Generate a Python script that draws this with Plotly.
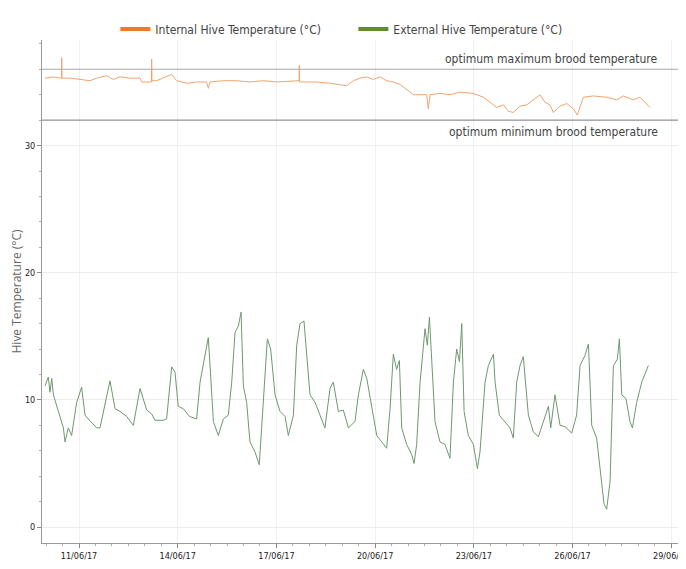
import pandas as pd
import plotly.graph_objects as go

# hours since 10/06/2017 00:00 and readings (°C)
ext_hours = [-0.8, 1.6, 2.8, 4.1, 5.3, 12.6, 13.8, 16.2, 18.6, 22.3, 25.9, 28.4, 30.8, 36.9, 39.3,
             44.2, 46.6, 50.3, 53.9, 58.8, 63.6, 68.5, 73.4, 77.0, 79.4, 85.5, 87.9, 91.6, 94.0,
             96.4, 100.1, 104.6, 109.8, 112.3, 115.9, 118.3, 119.6, 122.0, 125.6, 129.3, 132.9,
             135.4, 137.8, 140.2, 142.2, 143.9, 146.3, 148.7, 152.4, 155.5, 157.2, 159.7, 161.4,
             163.8, 167.0, 170.6, 174.3, 176.7, 180.4, 182.8, 185.2, 188.1, 189.6, 192.5, 196.2,
             199.8, 203.4, 207.1, 209.5, 213.2, 216.8, 220.5, 225.3, 227.8, 231.4, 233.9, 237.5,
             241.2, 244.8, 248.4, 250.9, 253.3, 255.7, 257.7, 259.4, 263.0, 266.7, 268.4, 270.3,
             272.8, 276.4, 278.1, 279.6, 281.3, 283.7, 287.3, 291.0, 294.6, 297.1, 299.5, 301.5,
             303.2, 304.9, 308.0, 311.7, 314.6, 316.5, 320.2, 322.6, 326.3, 327.5, 330.6, 334.8,
             338.4, 340.8, 343.3, 345.7, 348.1, 351.8, 355.4, 359.1, 362.7, 366.4, 368.1, 371.2,
             374.9, 378.5, 383.4, 387.0, 389.5, 393.1, 395.6, 398.0, 401.6, 404.1, 407.0, 408.9,
             411.4, 413.8, 416.7, 418.2, 419.9, 423.0, 425.9, 427.7, 430.8, 434.5, 439.3]
ext_temp = [11.1, 11.8, 10.6, 11.7, 10.4, 7.8, 6.7, 7.8, 7.2, 9.8, 11.0, 8.8, 8.5, 7.8, 7.8,
            10.4, 11.5, 9.3, 9.1, 8.7, 8.0, 10.9, 9.2, 8.9, 8.4, 8.4, 8.5, 12.6, 12.2,
            9.5, 9.3, 8.7, 8.5, 11.4, 13.5, 14.9, 12.7, 8.3, 7.2, 8.5, 8.8,
            11.4, 15.3, 15.8, 16.9, 11.1, 9.8, 6.7, 5.9, 4.9, 7.8, 12.4, 14.8,
            14.0, 10.4, 9.1, 8.7, 7.2, 8.8, 14.3, 16.0, 16.2, 14.0, 10.4, 9.8,
            8.8, 7.8, 10.9, 11.4, 9.1, 9.2, 7.8, 8.3, 10.4, 12.4, 11.7, 9.3,
            7.2, 6.7, 6.2, 9.3, 13.6, 12.4, 13.1, 7.8, 6.5, 5.7, 5.0, 6.5,
            11.4, 15.6, 14.3, 16.5, 13.5, 8.3, 6.7, 6.5, 5.4, 11.4, 14.0, 13.0,
            16.0, 9.1, 7.2, 6.5, 4.6, 5.9, 11.4, 12.7, 13.6, 11.4, 8.8, 8.3,
            7.8, 7.0, 11.4, 12.7, 13.4, 8.8, 7.5, 7.1, 8.3, 9.5, 7.8, 10.4,
            8.0, 7.9, 7.4, 8.8, 12.7, 13.5, 14.4, 8.0, 7.0, 4.6, 1.8, 1.4,
            3.6, 12.7, 13.2, 14.8, 10.4, 10.1, 8.3, 7.8, 9.8, 11.4, 12.7]

int_hours = [-0.8, 5.3, 10.1, 11.2, 11.4, 11.6, 17.4, 24.7, 32.0, 36.9, 44.2, 49.0, 53.9, 61.2,
             68.5, 69.7, 75.8, 76.8, 77.0, 77.2, 80.6, 85.5, 91.6, 95.2, 102.5, 109.8, 117.1,
             118.3, 119.6, 129.3, 139.0, 148.7, 158.5, 168.2, 180.4, 184.5, 184.7, 184.9, 197.4,
             207.1, 219.3, 224.1, 229.0, 233.9, 238.7, 243.6, 248.4, 253.3, 258.2, 263.0, 267.9,
             272.8, 277.6, 278.8, 280.1, 287.3, 294.6, 302.0, 311.7, 319.0, 323.8, 328.7, 333.6,
             337.2, 340.8, 345.7, 350.6, 355.4, 360.3, 363.9, 367.6, 370.0, 374.9, 379.8, 384.6,
             387.5, 391.9, 399.2, 408.9, 416.2, 421.1, 428.4, 433.2, 436.9, 440.5]
int_temp = [35.3, 35.4, 35.3, 35.3, 36.9, 35.3, 35.3, 35.2, 35.1, 35.3, 35.5, 35.2, 35.4, 35.3,
            35.3, 35.0, 35.0, 35.0, 36.8, 35.1, 35.1, 35.3, 35.6, 35.1, 34.9, 35.0, 35.0,
            34.5, 35.0, 35.1, 35.1, 35.0, 35.1, 35.0, 35.1, 35.1, 36.3, 35.0, 35.0,
            34.9, 34.7, 35.1, 35.3, 35.4, 35.2, 35.4, 35.1, 35.0, 34.8, 34.4, 34.0,
            34.0, 34.0, 32.9, 34.0, 34.1, 34.0, 34.2, 34.1, 33.8, 33.4, 33.0, 33.2,
            32.7, 32.6, 33.1, 33.2, 33.6, 34.0, 33.4, 33.2, 32.6, 33.1, 33.3, 32.9,
            32.4, 33.8, 33.9, 33.8, 33.6, 33.9, 33.6, 33.8, 33.4, 33.0]

BROOD_MAX = 36
BROOD_MIN = 32
START = pd.Timestamp("2017-06-10 00:00")

ext_x = [START + pd.Timedelta(hours=h) for h in ext_hours]
int_x = [START + pd.Timedelta(hours=h) for h in int_hours]

COND = "Liberation Sans Narrow, DejaVu Sans Condensed, Arial Narrow, sans-serif"

fig = go.Figure()
fig.add_trace(go.Scatter(x=int_x, y=int_temp, mode="lines", showlegend=False,
                         line=dict(color="#f2a46e", width=1)))
fig.add_trace(go.Scatter(x=ext_x, y=ext_temp, mode="lines", showlegend=False,
                         line=dict(color="#6f9870", width=1)))
# legend entries
fig.add_trace(go.Scatter(x=[None], y=[None], mode="lines", name="Internal Hive Temperature (°C)",
                         line=dict(color="#f07b2e", width=4)))
fig.add_trace(go.Scatter(x=[None], y=[None], mode="lines", name="External Hive Temperature (°C)",
                         line=dict(color="#5f8c2e", width=4)))

fig.add_hline(y=BROOD_MAX, line=dict(color="#a8a8a8", width=1))
fig.add_hline(y=BROOD_MIN, line=dict(color="#777777", width=1))
fig.add_annotation(x=0.968, xref="paper", y=BROOD_MAX, yref="y", yshift=10,
                   text="optimum maximum brood temperature", showarrow=False,
                   xanchor="right", yanchor="middle", font=dict(family=COND, size=12, color="#444"))
fig.add_annotation(x=0.968, xref="paper", y=BROOD_MIN, yref="y", yshift=-12,
                   text="optimum minimum brood temperature", showarrow=False,
                   xanchor="right", yanchor="middle", font=dict(family=COND, size=12, color="#444"))

fig.update_layout(
    width=678, height=561,
    margin=dict(l=34, r=6, t=25, b=26),
    paper_bgcolor="white", plot_bgcolor="white",
    legend=dict(orientation="h", x=0.115, y=1.022, xanchor="left", yanchor="middle",
                font=dict(family=COND, size=12, color="#444"),
                itemwidth=30, entrywidth=193, entrywidthmode="pixels",
                bgcolor="rgba(0,0,0,0)"),
)
fig.update_xaxes(
    type="date",
    range=["2017-06-09 21:00", "2017-06-29 06:24"],
    tick0="2017-06-11", dtick=3 * 86400000, tickformat="%d/%m/%y",
    ticks="outside", ticklen=4, tickcolor="#888",
    showline=True, linecolor="#999", linewidth=1,
    showgrid=True, gridcolor="#f0f0f0",
    minor=dict(dtick=43200000, ticks="outside", ticklen=2, tickcolor="#aaa", showgrid=False),
    tickfont=dict(family=COND, size=9, color="#222"),
    ticklabeloverflow="allow",
    zeroline=False, automargin=False,
)
fig.update_yaxes(
    range=[-1.25, 38.3],
    tick0=0, dtick=10,
    ticks="outside", ticklen=4, tickcolor="#888",
    showline=True, linecolor="#999", linewidth=1,
    showgrid=True, gridcolor="#ececec",
    minor=dict(dtick=2, ticks="outside", ticklen=2, tickcolor="#aaa", showgrid=False),
    tickfont=dict(family=COND, size=9, color="#222"),
    title=dict(text="Hive Temperature (°C)", standoff=5,
               font=dict(family="Open Sans, sans-serif", size=12, color="#666")),
    zeroline=False, automargin=False,
)

fig.write_html("out.html")
